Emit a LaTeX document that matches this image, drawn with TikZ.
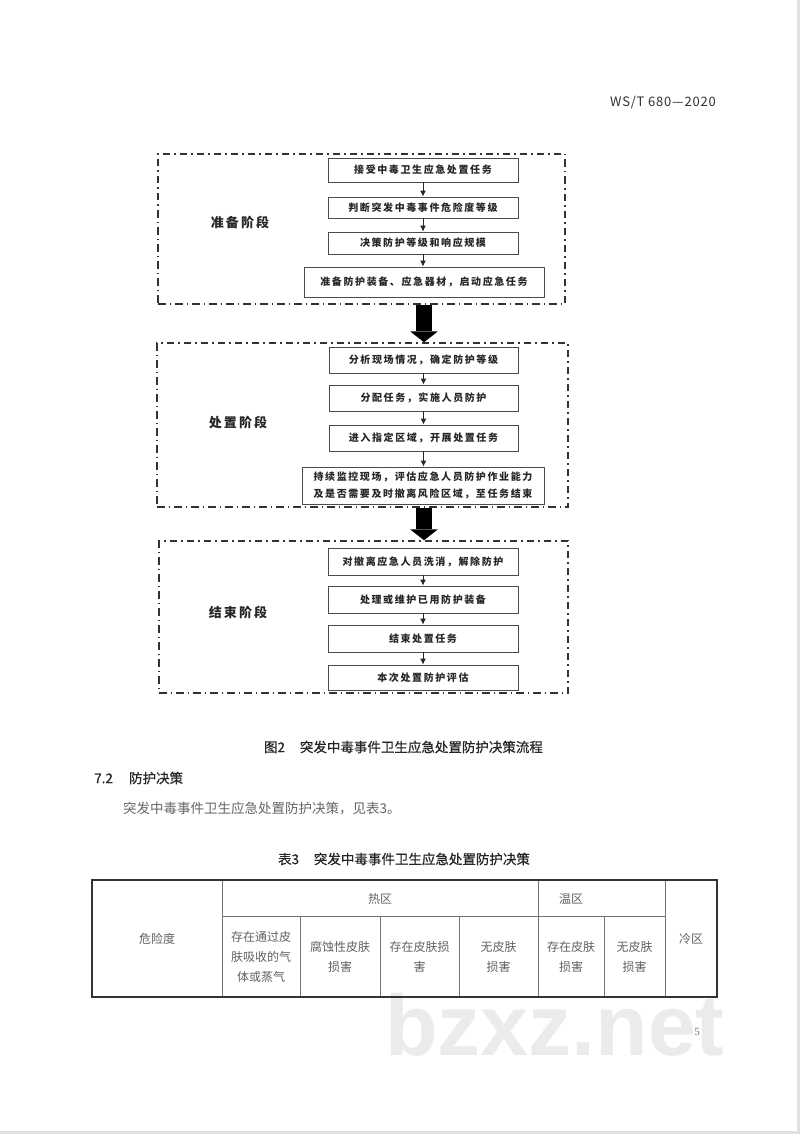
\documentclass[tikz,border=0pt]{standalone}
\usepackage{fontspec}
\setmainfont{Liberation Serif}
\newfontfamily\cjk{Noto Sans CJK SC}
\newfontfamily\cjkhei[FakeBold=0.5]{Noto Sans CJK SC}
\newfontfamily\cjkflow[LetterSpace=16]{Noto Sans CJK SC}
\newfontfamily\cjkstage[LetterSpace=16]{Noto Sans CJK SC}
\newfontfamily\cjkhdr[LetterSpace=6]{Noto Sans CJK SC}
\newfontfamily\wmfont{Liberation Sans}
\usetikzlibrary{arrows.meta,calc}
\tikzset{
  frame/.style={draw=black!80, line width=1.5pt, dash pattern=on 7.5pt off 4pt on 1.5pt off 4pt, inner sep=0pt},
  flowbox/.style={draw=black!70, line width=0.8pt, fill=white, inner sep=0pt, align=center,
    font=\fontsize{10}{17}\cjkflow\bfseries, text=black!85},
  stagelabel/.style={font=\fontsize{13}{15}\cjkstage\bfseries, text=black!85},
  smallarrow/.style={line width=1pt, draw=black!85, -{Latex[length=6pt,width=6pt]}},
  bigarrow/.style={line width=16pt, draw=black, -{Triangle[length=11pt,width=28pt,line width=0pt]}},
  tabletext/.style={font=\fontsize{12}{20}\cjk, text=black!62, align=center, inner sep=0pt},
  tableline/.style={draw=black!55, line width=0.6pt},
  bodytext/.style={text=black!85, inner sep=0pt}
}
\begin{document}
\begin{tikzpicture}[x=1pt,y=-1pt]
\useasboundingbox (0,0) rectangle (800,1134);
\fill[white] (0,0) rectangle (800,1134);
\draw[black!12, line width=3pt] (798.5,0) -- (798.5,1132.5) -- (0,1132.5);

% header
\node[bodytext, font=\fontsize{13}{15}\cjkhdr, text=black!80] (hdr) at (663,103) {WS/T 680—2020};

% stage frames
\node[frame, minimum width=407pt, minimum height=150pt] (f1) at (361.5,229) {};
\node[frame, minimum width=411pt, minimum height=164pt] (f2) at (362.5,425) {};
\node[frame, minimum width=409pt, minimum height=152pt] (f3) at (363.5,617) {};

\node[stagelabel] (l1) at (240,222) {准备阶段};
\node[stagelabel] (l2) at (238,422) {处置阶段};
\node[stagelabel] (l3) at (238,612) {结束阶段};

% stage 1 boxes
\node[flowbox, minimum width=190pt, minimum height=24pt] (a1) at (423,170) {接受中毒卫生应急处置任务};
\node[flowbox, minimum width=190pt, minimum height=21pt] (a2) at (423,207.5) {判断突发中毒事件危险度等级};
\node[flowbox, minimum width=190pt, minimum height=22pt] (a3) at (423,243) {决策防护等级和响应规模};
\node[flowbox, minimum width=240pt, minimum height=30pt] (a4) at (424,282) {准备防护装备、应急器材，启动应急任务};

% stage 2 boxes
\node[flowbox, minimum width=189pt, minimum height=26pt] (b1) at (423.5,360) {分析现场情况，确定防护等级};
\node[flowbox, minimum width=189pt, minimum height=26pt] (b2) at (423.5,398) {分配任务，实施人员防护};
\node[flowbox, minimum width=189pt, minimum height=26pt] (b3) at (423.5,438) {进入指定区域，开展处置任务};
\node[flowbox, minimum width=242pt, minimum height=37pt] (b4) at (423,485.5) {持续监控现场，评估应急人员防护作业能力\\及是否需要及时撤离风险区域，至任务结束};

% stage 3 boxes
\node[flowbox, minimum width=190pt, minimum height=27pt] (c1) at (423,561.5) {对撤离应急人员洗消，解除防护};
\node[flowbox, minimum width=190pt, minimum height=27pt] (c2) at (423,599.5) {处理或维护已用防护装备};
\node[flowbox, minimum width=190pt, minimum height=27pt] (c3) at (423,638.5) {结束处置任务};
\node[flowbox, minimum width=190pt, minimum height=25pt] (c4) at (423,677.5) {本次处置防护评估};

% small arrows
\draw[smallarrow] (a1) -- (a2);
\draw[smallarrow] (a2) -- (a3);
\draw[smallarrow] (a3.south) -- (a3.south |- a4.north);
\draw[smallarrow] (b1) -- (b2);
\draw[smallarrow] (b2) -- (b3);
\draw[smallarrow] (b3.south) -- (b3.south |- b4.north);
\draw[smallarrow] (c1) -- (c2);
\draw[smallarrow] (c2) -- (c3);
\draw[smallarrow] (c3) -- (c4);

% big arrows between stages
\draw[bigarrow] (f1.south -| a4.south) -- (f2.north -| a4.south);
\draw[bigarrow] (f2.south -| a4.south) -- (f3.north -| a4.south);

% caption and text
\node[bodytext, font=\fontsize{13.5}{15}\cjkhei] (cap) at (403.5,747) {图2\hspace{1.1em}突发中毒事件卫生应急处置防护决策流程};
\node[bodytext, font=\fontsize{13.5}{15}\cjkhei, anchor=west] (sec) at (94,778) {7.2\hspace{1.2em}防护决策};
\node[bodytext, font=\fontsize{13.5}{15}\cjk, text=black!60, anchor=west] (par) at (123,808) {突发中毒事件卫生应急处置防护决策，见表3。};
\node[bodytext, font=\fontsize{13.5}{15}\cjkhei] (tt) at (404,859) {表3\hspace{1.1em}突发中毒事件卫生应急处置防护决策};

% watermark
\node[inner sep=0pt, anchor=base west, text=black!8, font=\fontsize{86}{90}\wmfont\bfseries] (wm) at (385,1055) {bzxz.net};
\node[inner sep=0pt, font=\fontsize{11}{12}\selectfont, text=black!55] (pg) at (697,1032) {5};

% table
\draw[tableline] (222,880) -- (222,997);
\draw[tableline] (665,880) -- (665,997);
\draw[tableline] (538,880) -- (538,997);
\draw[tableline] (222,916) -- (665,916);
\draw[tableline] (300,916) -- (300,997);
\draw[tableline] (380,916) -- (380,997);
\draw[tableline] (459,916) -- (459,997);
\draw[tableline] (604,916) -- (604,997);
\draw[draw=black!80, line width=1.3pt] (92,880) rectangle (717,997);

\node[tabletext] (t0) at (157,939) {危险度};
\node[tabletext] (th) at (380,899) {热区};
\node[tabletext] (tw) at (571,899) {温区};
\node[tabletext] (tc) at (691,939) {冷区};
\node[tabletext] (t1) at (261,957) {存在通过皮\\肤吸收的气\\体或蒸气};
\node[tabletext] (t2) at (340,957) {腐蚀性皮肤\\损害};
\node[tabletext] (t3) at (419.5,957) {存在皮肤损\\害};
\node[tabletext] (t4) at (498.5,957) {无皮肤\\损害};
\node[tabletext] (t5) at (571,957) {存在皮肤\\损害};
\node[tabletext] (t6) at (634.5,957) {无皮肤\\损害};
\end{tikzpicture}
\end{document}
